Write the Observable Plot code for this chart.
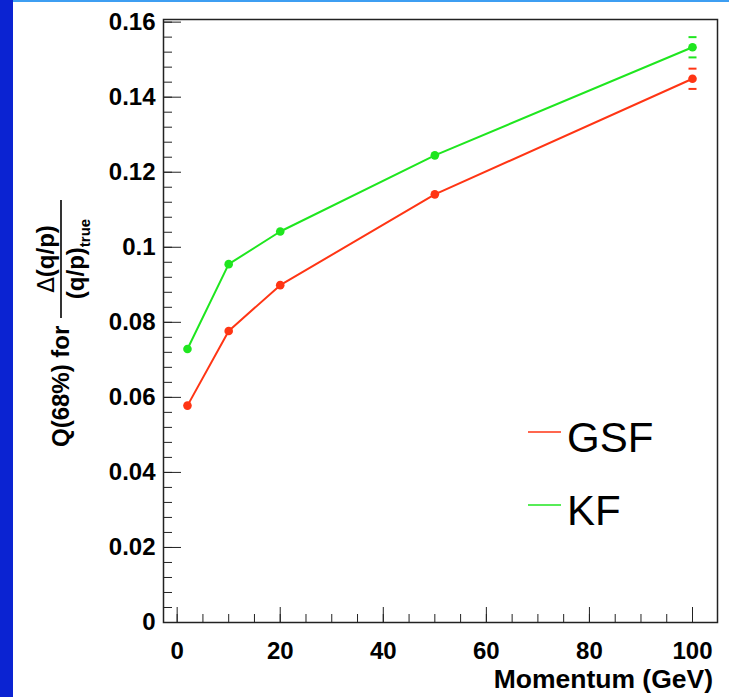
<!DOCTYPE html>
<html>
<head>
<meta charset="utf-8">
<script src="https://cdn.jsdelivr.net/npm/d3@7"></script>
<script src="https://cdn.jsdelivr.net/npm/@observablehq/plot@0.6"></script>
<style>
  body { margin: 0; background: #fff; }
  #chart { position: relative; width: 729px; height: 697px; overflow: hidden; background: #fff; }
  #chart svg { position: absolute; left: 0; top: 0; }
  .edge-left { position: absolute; left: 0; top: 0; width: 13px; height: 697px; background: #0b23d2; z-index: 2; }
  .edge-top { position: absolute; left: 13px; top: 0; width: 716px; height: 2px; background: #3d9ef2; z-index: 2; }
</style>
</head>
<body>
<div id="chart"><div class="edge-left"></div><div class="edge-top"></div></div>
<script>
// Momentum points (GeV) and the 68% quantile of the q/p resolution for each fitter
const momentum = [2, 10, 20, 50, 100];
const gsfQ68 = [0.0578, 0.0777, 0.0899, 0.1141, 0.1449];
const kfQ68 = [0.0729, 0.0955, 0.1042, 0.1245, 0.1533];
const gsfErr = [0, 0, 0, 0, 0.0027];
const kfErr = [0, 0, 0, 0, 0.0027];

const seriesNames = ["GSF", "KF"];
const seriesColors = ["#ff3514", "#1fe61f"];

const xTicks = [0, 20, 40, 60, 80, 100];
const xTickLabels = ["0", "20", "40", "60", "80", "100"];
const xMinorTicks = d3.range(0, 21).map(i => i * 5);
const yTicks = [0, 0.02, 0.04, 0.06, 0.08, 0.1, 0.12, 0.14, 0.16];
const yTickLabels = ["0", "0.02", "0.04", "0.06", "0.08", "0.1", "0.12", "0.14", "0.16"];
const yMinorTicks = d3.range(0, 41).map(i => i * 0.004);

const xTitle = "Momentum (GeV)";
const yTitleLead = "Q(68%) for";
const yTitleDelta = "\u0394";
const yTitleNum = "(q/p)";
const yTitleDen = "(q/p)";
const yTitleSub = "true";

const font = '"Liberation Sans", Arial, Helvetica, sans-serif';

const rows = [
  ...momentum.map((p, i) => ({series: "GSF", p, q: gsfQ68[i], e: gsfErr[i]})),
  ...momentum.map((p, i) => ({series: "KF", p, q: kfQ68[i], e: kfErr[i]}))
];
const caps = rows.filter(d => d.e > 0).flatMap(d => [
  {series: d.series, p: d.p, q: d.q + d.e},
  {series: d.series, p: d.p, q: d.q - d.e}
]);

// horizontal dash used for the error-bar end caps
const capSymbol = {
  draw(context, size) {
    const r = Math.sqrt(size / Math.PI);
    context.moveTo(-r, 0);
    context.lineTo(r, 0);
  }
};

// axis titles and the in-frame legend
function annotations(index, scales, values, dims) {
  const g = d3.create("svg:g").attr("font-family", font).attr("fill", "#000")
    .attr("text-anchor", "start");

  g.append("text")
    .attr("x", 713).attr("y", 688)
    .attr("text-anchor", "end")
    .attr("font-size", 26.5).attr("font-weight", "bold")
    .text(xTitle);

  const yt = g.append("g").attr("transform", "translate(61,447) rotate(-90)")
    .attr("font-weight", "bold");
  yt.append("text").attr("x", 0).attr("y", 8).attr("text-anchor", "start")
    .attr("font-size", 24).text(yTitleLead);
  yt.append("line").attr("x1", 129).attr("x2", 247).attr("y1", 0).attr("y2", 0)
    .attr("stroke", "#000").attr("stroke-width", 1.6);
  const num = yt.append("text").attr("x", 188).attr("y", -7).attr("text-anchor", "middle")
    .attr("font-size", 24);
  num.append("tspan").attr("font-weight", "normal").attr("font-family", '"DejaVu Sans", sans-serif')
    .attr("font-size", 23).text(yTitleDelta);
  num.append("tspan").text(yTitleNum);
  const den = yt.append("text").attr("x", 188).attr("y", 23).attr("text-anchor", "middle")
    .attr("font-size", 24);
  den.append("tspan").text(yTitleDen);
  den.append("tspan").attr("font-size", 15).attr("dy", 6).text(yTitleSub);

  const legend = g.append("g");
  seriesNames.forEach((name, i) => {
    const y = 432 + i * 73;
    legend.append("line").attr("x1", 528).attr("x2", 561).attr("y1", y).attr("y2", y)
      .attr("stroke", seriesColors[i]).attr("stroke-width", 1.5);
    legend.append("text").attr("x", 567).attr("y", y + 20).attr("text-anchor", "start")
      .attr("font-size", 42).text(name);
  });
  return g.node();
}

const plot = Plot.plot({
  width: 729,
  height: 697,
  marginLeft: 163,
  marginTop: 19,
  marginRight: 12,
  marginBottom: 75,
  style: {fontFamily: font, background: "transparent", color: "#000"},
  x: {domain: [-2.65, 104.85], axis: null},
  y: {domain: [0, 0.1607], axis: null},
  color: {domain: seriesNames, range: seriesColors},
  marks: [
    Plot.axisX({ticks: xMinorTicks, anchor: "bottom", label: null, tickSize: -8, tickFormat: () => "", stroke: "#222"}),
    Plot.axisX({ticks: xTicks, anchor: "bottom", label: null, tickSize: -15, tickFormat: () => "", stroke: "#222"}),
    Plot.axisX({ticks: xTicks, anchor: "bottom", label: null, tickSize: 0, tickPadding: 19,
      tickFormat: d => xTickLabels[xTicks.indexOf(d)], fontSize: 24, fontWeight: "bold", fill: "#000"}),
    Plot.axisY({ticks: yMinorTicks, anchor: "left", label: null, tickSize: -9, tickFormat: () => "", stroke: "#222"}),
    Plot.axisY({ticks: yTicks, anchor: "left", label: null, tickSize: -18, tickFormat: () => "", stroke: "#222"}),
    Plot.axisY({ticks: yTicks, anchor: "left", label: null, tickSize: 0, tickPadding: 8,
      tickFormat: d => yTickLabels[yTicks.indexOf(d)], fontSize: 24, fontWeight: "bold", fill: "#000"}),
    Plot.frame({stroke: "#222", strokeWidth: 1.5}),
    Plot.line(rows, {x: "p", y: "q", z: "series", stroke: "series", strokeWidth: 2}),
    Plot.dot(caps, {x: "p", y: "q", stroke: "series", symbol: capSymbol, r: 4, strokeWidth: 2}),
    Plot.dot(rows, {x: "p", y: "q", fill: "series", r: 4.3}),
    annotations
  ]
});

document.getElementById("chart").appendChild(plot);
</script>
</body>
</html>
